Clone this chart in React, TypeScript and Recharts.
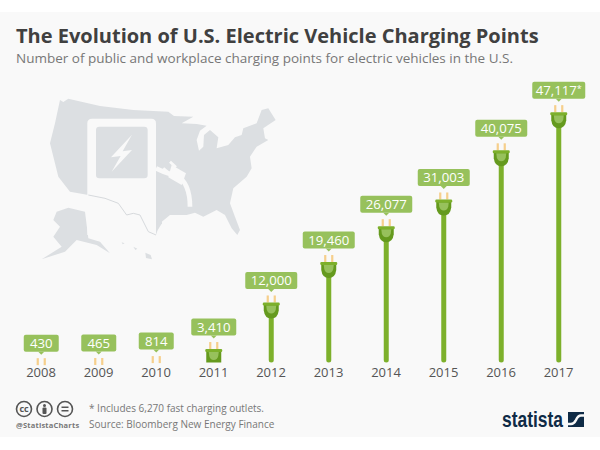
import React from 'react';
import { BarChart, Bar, XAxis, YAxis, LabelList } from 'recharts';

const years = ['2008', '2009', '2010', '2011', '2012', '2013', '2014', '2015', '2016', '2017'];
const chargingPoints = [430, 465, 814, 3410, 12000, 19460, 26077, 31003, 40075, 47117];
const pointLabels = ['430', '465', '814', '3,410', '12,000', '19,460', '26,077', '31,003', '40,075', '47,117*'];

const data = years.map((year, i) => ({
    year,
    points: chargingPoints[i],
    label: pointLabels[i],
}));

const FONT = '"Open Sans", sans-serif';
const PANEL = '#f9f9f9';
const MAP_GREY = '#dcdfe2';
const STEM_GREEN = '#7db02b';
const DARK_GREEN = '#659a1e';
const LABEL_GREEN = '#97c15c';
const PIN = '#f6cf8c';
const NAVY = '#0f2b46';

// the plug stops being a plug below this height, only the pins stay visible
const FLOOR_OFFSET = 5;

const PlugBar = (props: any) => {
    const { x, y, width, height } = props;
    const cx = x + width / 2;
    const floor = y + height - FLOOR_OFFSET;
    const hasBody = floor - y > 8;
    const fullPlug = floor - y > 16;
    const outer = fullPlug
        ? `M${cx - 7.5} ${y + 2} L${cx + 7.5} ${y + 2} L${cx + 7.5} ${y + 8} Q${cx + 6.5} ${y + 16} ${cx} ${y + 16} Q${cx - 6.5} ${y + 16} ${cx - 7.5} ${y + 8} Z`
        : `M${cx - 7.5} ${y + 2} L${cx + 7.5} ${y + 2} L${cx + 7.5} ${floor} L${cx - 7.5} ${floor} Z`;
    return (
        <g>
            {fullPlug && (
                <rect x={cx - 2.5} y={y + 10} width={5} height={floor - y - 10} rx={2.5} fill={STEM_GREEN} />
            )}
            <rect x={cx - 4.6} y={y - 7} width={2.2} height={7} fill={PIN} />
            <rect x={cx + 2.4} y={y - 7} width={2.2} height={7} fill={PIN} />
            {hasBody && (
                <g>
                    <path d={outer} fill={DARK_GREEN} />
                    <path
                        d={`M${cx - 5} ${y + 3} L${cx + 5} ${y + 3} L${cx + 4.5} ${y + 7} Q${cx + 3.5} ${y + 11} ${cx} ${y + 11} Q${cx - 3.5} ${y + 11} ${cx - 4.5} ${y + 7} Z`}
                        fill={LABEL_GREEN}
                    />
                    <rect x={cx - 8.5} y={y} width={17} height={3} rx={1.2} fill={STEM_GREEN} />
                </g>
            )}
        </g>
    );
};

const PlugLabel = (props: any) => {
    const { x, y, width, value } = props;
    const cx = x + width / 2;
    const text = String(value);
    const starred = text.endsWith('*');
    const digits = starred ? text.slice(0, -1) : text;
    const boxWidth = digits.length <= 3 ? 35 : digits.length === 5 ? 45 : starred ? 53 : 52;
    const bottom = y - 13.5;
    return (
        <g>
            <rect x={cx - boxWidth / 2} y={bottom - 17} width={boxWidth} height={17} rx={2} fill={LABEL_GREEN} />
            <path d={`M${cx - 3} ${bottom} L${cx} ${bottom + 3} L${cx + 3} ${bottom} Z`} fill={LABEL_GREEN} />
            <text x={cx} y={bottom - 3.5} textAnchor="middle" fill="#fff" fontFamily={FONT} fontSize={13.2} fontWeight={500}>
                {digits}
                {starred && <tspan fontSize={9} dy={-3}>*</tspan>}
            </text>
        </g>
    );
};

const YearTick = (props: any) => {
    const { x, y, payload } = props;
    return (
        <text x={x} y={y + 1.5} textAnchor="middle" fill="#555" fontFamily={FONT} fontSize={13}>
            {payload.value}
        </text>
    );
};

// background decoration (zoomed coordinates)
const UsMap = () => (
    <svg width={600} height={450} style={{ position: 'absolute', left: 0, top: 0 }}>
        <g transform="translate(0 60) scale(0.3333)">
            <path
                fill={MAP_GREY}
                d="M180 120 L190 126 L205 116 L300 138 L400 150 L505 155 L522 168 L580 170 L545 190 L590 192 L620 197 L600 212 L590 240 L597 272 L610 260 L612 225 L630 210 L655 232 L650 265 L685 255 L705 232 L725 225 L730 205 L770 190 L785 150 L805 145 L827 180 L790 205 L795 235 L805 240 L770 260 L750 290 L755 325 L740 350 L700 385 L690 430 L705 470 L720 510 L712 525 L695 505 L675 465 L650 450 L610 470 L585 458 L560 465 L510 465 L480 490 L468 525 L445 515 L420 465 L400 460 L380 465 L355 430 L315 415 L265 405 L210 395 L175 350 L150 250 L165 190 Z"
            />
            <path
                fill={MAP_GREY}
                d="M170 455 L205 443 L255 455 L265 535 L300 545 L330 580 L290 555 L230 540 L195 575 L125 598 L185 560 L160 530 L180 500 L160 480 Z"
            />
            <path fill={MAP_GREY} d="M436 578 L452 585 L456 598 L438 594 Z M400 560 L412 566 L406 570 Z M365 547 L374 550 L368 553 Z" />
            <path fill={PANEL} d="M262 190 Q262 176 276 176 L454 176 Q468 176 468 190 L468 525 L262 525 Z" />
            <path d="M265 405 L315 415 L355 430 L380 465 L400 460 L420 465 L445 515 L468 525" fill="none" stroke="#cfd3d6" strokeWidth={2.5} />
            <path fill={MAP_GREY} d="M470 448 L485 452 L486 490 L472 512 Z" />
            <rect x={288} y={200} width={155} height={155} rx={10} fill={MAP_GREY} />
            <path fill={PANEL} d="M396 224 L333 292 L362 288 L335 335 L396 270 L368 274 Z" />
            <path d="M468 325 Q510 345 530 345 Q570 370 570 440" fill="none" stroke={PANEL} strokeWidth={14} />
            <path fill={PANEL} d="M515 315 L558 340 L545 375 L505 352 Z" />
            <path d="M490 325 L508 340 M510 305 L528 322" stroke={PANEL} strokeWidth={8} />
        </g>
    </svg>
);

const CcBadge = ({ x, children }: { x: number; children: React.ReactNode }) => (
    <g transform={`translate(${x} 409)`}>
        <circle r={7.5} fill="none" stroke="#555" strokeWidth={1.6} />
        {children}
    </g>
);

const Footer = () => (
    <svg width={600} height={450} style={{ position: 'absolute', left: 0, top: 0 }}>
        <CcBadge x={24}>
            <text y={3} textAnchor="middle" fontFamily={FONT} fontSize={9} fontWeight={700} fill="#555">cc</text>
        </CcBadge>
        <CcBadge x={44.5}>
            <circle cy={-3.5} r={1.5} fill="#555" />
            <rect x={-2} y={-1.5} width={4} height={6.5} rx={1} fill="#555" />
        </CcBadge>
        <CcBadge x={65}>
            <rect x={-3.5} y={-2.5} width={7} height={1.5} fill="#555" />
            <rect x={-3.5} y={1} width={7} height={1.5} fill="#555" />
        </CcBadge>
        <text x={16} y={428} fontFamily={FONT} fontSize={7.5} fontWeight={700} fill="#777" letterSpacing={0.2}>@StatistaCharts</text>
        <text x={89} y={412} fontFamily={FONT} fontSize={10} fill="#777">* Includes 6,270 fast charging outlets.</text>
        <text x={89} y={428} fontFamily={FONT} fontSize={10} fill="#777">Source: Bloomberg New Energy Finance</text>
        <text x={502} y={427} textLength={61} lengthAdjust="spacingAndGlyphs" fontFamily='"Liberation Sans", sans-serif' fontSize={22} fontWeight={700} fill={NAVY}>statista</text>
        <rect x={568} y={412} width={16} height={15} fill={NAVY} />
        <path d="M566 424 L571 424 Q574 424 576 420 Q578 415.5 581 415.5 L586 415.5" fill="none" stroke={PANEL} strokeWidth={2.5} />
    </svg>
);

const App = () => (
    <div style={{ position: 'absolute', left: 0, top: 0, width: 600, height: 450, background: '#fff', overflow: 'hidden' }}>
        <div style={{ position: 'absolute', left: 0, top: 12, width: 600, height: 425, background: PANEL }} />
        <UsMap />
        <div style={{ position: 'absolute', left: 16, top: 22, fontFamily: FONT, fontSize: 20, fontWeight: 700, color: '#404040', whiteSpace: 'nowrap' }}>
            The Evolution of U.S. Electric Vehicle Charging Points
        </div>
        <div style={{ position: 'absolute', left: 16, top: 49, fontFamily: FONT, fontSize: 13.5, color: '#777', whiteSpace: 'nowrap' }}>
            Number of public and workplace charging points for electric vehicles in the U.S.
        </div>
        <div style={{ position: 'absolute', left: 0, top: 0 }}>
            <BarChart width={600} height={450} data={data} barCategoryGap={8} margin={{ top: 64, right: 12.75, bottom: 52.5, left: 12.25 }}>
                <XAxis dataKey="year" height={30} axisLine={false} tickLine={false} tick={YearTick} interval={0} />
                <YAxis hide domain={[0, 56000]} />
                <Bar dataKey="points" shape={PlugBar} isAnimationActive={false}>
                    <LabelList dataKey="label" content={PlugLabel} />
                </Bar>
            </BarChart>
        </div>
        <Footer />
    </div>
);

export default App;
